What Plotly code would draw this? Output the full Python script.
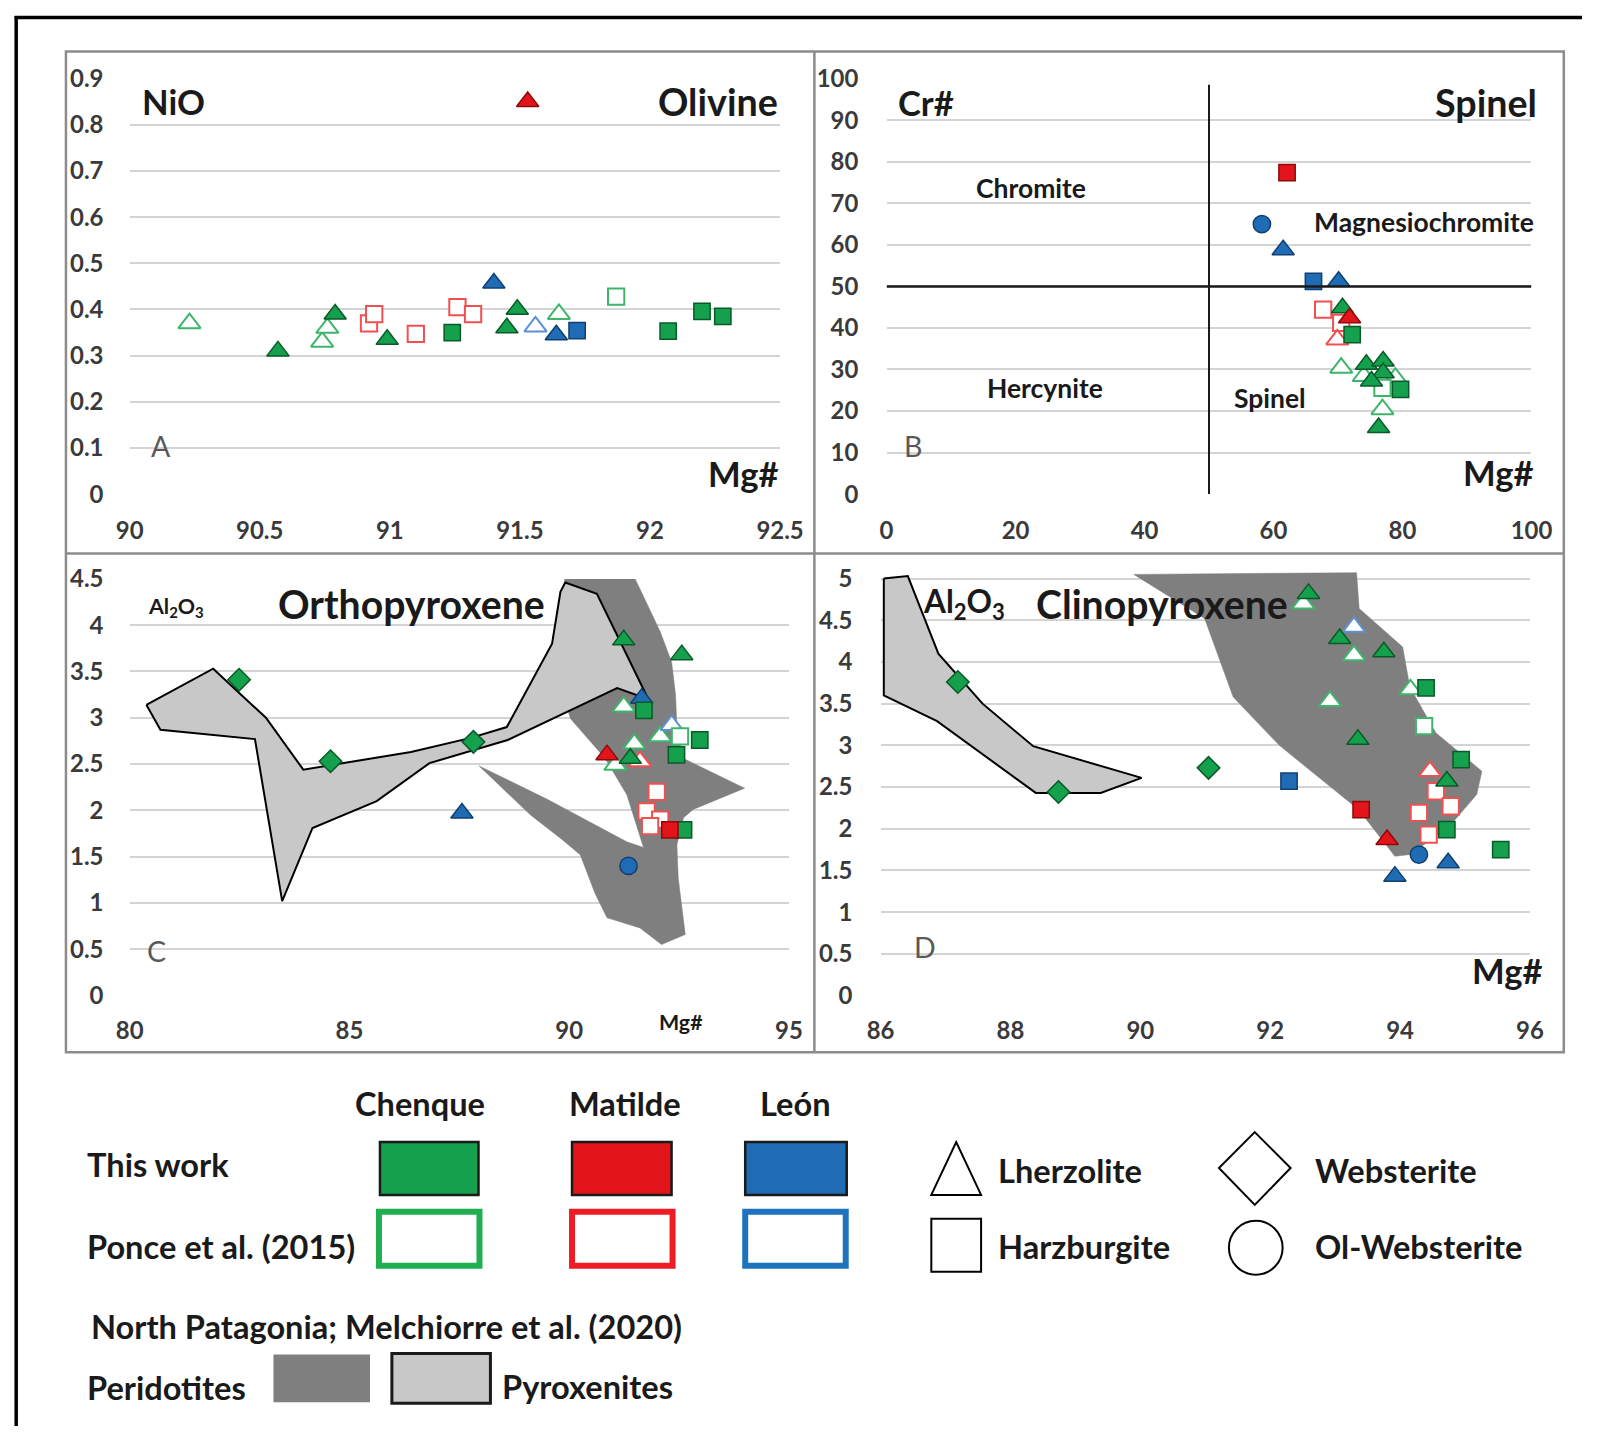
import plotly.graph_objects as go

W, H = 1606, 1439
# measured mapping of the photographed page: shot = K * div + OFF  -> invert so that
# positions given below (in photographed pixels) land where intended
KX, KY = 0.981, 0.983
OX, OY = 11.3, 12.3
S = 1 / ((KX + KY) / 2)  # size compensation


def px(x):
    return ((x - OX) / KX) / W


def py(y):
    return 1 - ((y - OY) / KY) / H


# ---------------- DATA ----------------
# group codes: [p]LOC-ROCK ; p = Ponce et al. (2015) (open); LOC: CH Chenque, MA Matilde, LE León
# ROCK: L Lherzolite, H Harzburgite, W Websterite, O Ol-Websterite

# Panel A - Olivine (Mg# vs NiO)
OL_MG = [90.23, 90.57, 90.74, 90.76, 90.79, 90.92, 90.94, 90.99, 91.10, 91.24, 91.26, 91.32,
         91.40, 91.45, 91.49, 91.53, 91.56, 91.65, 91.64, 91.72, 91.87, 92.07, 92.20, 92.28]
OL_NIO = [0.37, 0.31, 0.33, 0.36, 0.39, 0.37, 0.39, 0.335, 0.347, 0.35, 0.405, 0.39,
          0.457, 0.36, 0.40, 0.85, 0.363, 0.39, 0.345, 0.354, 0.428, 0.353, 0.396, 0.385]
OL_GROUP = ["pCH-L", "CH-L", "pCH-L", "pCH-L", "CH-L", "pMA-H", "pMA-H", "CH-L", "pMA-H", "CH-H",
            "pMA-H", "pMA-H", "LE-L", "CH-L", "CH-L", "MA-L", "pLE-L", "pCH-L", "LE-L", "LE-H",
            "pCH-H", "CH-H", "CH-H", "CH-H"]

# Panel B - Spinel (Mg# vs Cr#)
SP_MG = [62.1, 58.2, 61.5, 66.2, 70.1, 67.7, 70.7, 71.8, 70.5, 72.2, 69.9, 70.5, 74.4, 74.0,
         77.0, 77.0, 75.2, 76.9, 78.9, 79.7, 76.9, 76.3]
SP_CR = [77.4, 65.0, 58.8, 51.2, 51.2, 44.4, 44.8, 42.4, 41.2, 38.4, 37.2, 30.4, 31.2, 28.4,
         32.0, 29.2, 27.2, 25.6, 28.0, 25.2, 20.4, 16.0]
SP_GROUP = ["MA-H", "LE-O", "LE-L", "LE-H", "LE-L", "pMA-H", "CH-L", "MA-L", "pMA-H", "CH-H",
            "pMA-L", "pCH-L", "CH-L", "pCH-L", "CH-L", "CH-L", "CH-L", "pCH-H", "pCH-L", "CH-H",
            "pCH-L", "CH-L"]
SP_BOUNDARY_MG = 50
SP_BOUNDARY_CR = 50

# Panel C - Orthopyroxene (Mg# vs Al2O3)
OPX_MG = [82.49, 84.57, 87.82, 87.56, 91.24, 92.56, 91.65, 91.70, 91.24, 92.33, 92.07, 92.52,
          92.97, 91.48, 92.44, 90.86, 91.39, 91.61, 91.05, 91.99, 91.76, 92.07, 91.84, 92.29,
          92.60, 91.35]
OPX_AL = [3.41, 2.53, 2.74, 1.97, 3.84, 3.68, 3.21, 3.08, 3.12, 2.92, 2.80, 2.80,
          2.76, 2.72, 2.60, 2.60, 2.56, 2.53, 2.49, 2.20, 1.99, 1.90, 1.83, 1.79,
          1.79, 1.40]
OPX_GROUP = ["CH-W", "CH-W", "CH-W", "LE-L", "CH-L", "CH-L", "LE-L", "CH-H", "pCH-L", "pLE-L",
             "pCH-L", "pCH-H", "CH-H", "pCH-L", "CH-H", "MA-L", "CH-L", "pMA-L", "pCH-L", "pMA-H",
             "pMA-H", "pMA-H", "pMA-H", "MA-H", "CH-H", "LE-O"]

# Panel D - Clinopyroxene (Mg# vs Al2O3)
CPX_MG = [87.19, 88.74, 91.05, 92.29, 92.59, 92.51, 93.29, 93.07, 93.29, 93.75, 92.92, 94.16,
          94.40, 94.37, 93.35, 94.94, 94.46, 94.72, 94.55, 94.78, 93.40, 94.29, 94.72, 94.44,
          93.80, 94.29, 95.55, 94.74, 93.92]
CPX_AL = [3.76, 2.44, 2.73, 2.57, 4.82, 4.70, 4.42, 4.28, 4.08, 4.12, 3.53, 3.67,
          3.69, 3.23, 3.07, 2.83, 2.69, 2.57, 2.45, 2.27, 2.23, 2.19, 1.99, 1.93,
          1.87, 1.69, 1.75, 1.59, 1.43]
CPX_GROUP = ["CH-W", "CH-W", "CH-W", "LE-H", "CH-L", "pCH-L", "pLE-L", "CH-L", "pCH-L", "CH-L",
             "pCH-L", "pCH-L", "CH-H", "pCH-H", "CH-L", "CH-H", "pMA-L", "CH-L", "pMA-H", "pMA-H",
             "MA-H", "pMA-H", "CH-H", "pMA-H", "MA-L", "LE-O", "CH-H", "LE-L", "LE-L"]

# North Patagonia fields (Melchiorre et al. 2020)
OPX_PERID_X = [89.9, 91.5, 92.07, 92.33, 92.42, 92.45, 92.6, 93.99, 92.82, 92.6, 92.45, 92.48,
               92.6, 92.64, 92.1, 91.61, 90.86, 90.59, 90.25, 89.85, 89.12, 87.95, 89.5, 90.48,
               91.31, 91.69, 91.31, 90.82, 90.03, 89.7, 89.9]
OPX_PERID_Y = [4.5, 4.5, 3.93, 3.6, 3.25, 2.89, 2.56, 2.24, 2.01, 1.92, 1.63, 1.27,
               0.81, 0.66, 0.55, 0.73, 0.84, 1.1, 1.52, 1.68, 1.95, 2.48, 2.12, 1.87,
               1.66, 1.6, 2.17, 2.56, 2.99, 3.5, 4.5]
OPX_PYROX_X = [80.38, 81.9, 83.1, 83.95, 86.4, 87.74, 88.58, 89.61, 89.8, 89.91, 90.63, 91.73,
               91.8, 91.09, 88.6, 86.82, 85.62, 84.16, 83.47, 82.85, 80.7, 80.38]
OPX_PYROX_Y = [3.14, 3.53, 3.0, 2.44, 2.63, 2.78, 2.9, 3.8, 4.36, 4.46, 4.34, 3.28,
               3.2, 3.32, 2.76, 2.51, 2.1, 1.81, 1.02, 2.77, 2.87, 3.14]
CPX_PERID_X = [89.9, 93.33, 93.37, 94.04, 94.15, 94.55, 95.26, 95.18, 94.85, 94.55, 94.15, 93.92,
               93.36, 92.14, 91.43, 90.99, 89.9]
CPX_PERID_Y = [5.05, 5.07, 4.64, 4.18, 3.7, 3.15, 2.69, 2.41, 2.11, 1.91, 1.69, 1.67,
               2.23, 3.0, 3.58, 4.52, 5.05]
CPX_PYROX_X = [86.05, 86.42, 86.89, 87.57, 88.35, 90.02, 89.39, 88.39, 86.87, 86.05, 86.05]
CPX_PYROX_Y = [5.0, 5.03, 4.1, 3.5, 2.99, 2.61, 2.43, 2.43, 3.29, 3.6, 5.0]

# ---------------- STYLE ----------------
FILL = {"CH": "#14a04c", "MA": "#e3141b", "LE": "#1f6cb4"}
EDGE = {"CH": "#0a5a29", "MA": "#8c0a0a", "LE": "#103f72"}
OPEN = {"CH": "#3db56b", "MA": "#ef5050", "LE": "#5d90d2"}
SYMBOL = {"L": "triangle-up", "H": "square", "W": "diamond", "O": "circle"}
SIZE = {"L": 19, "H": 16, "W": 17, "O": 17}
PERID_COLOR = "#7f7f7f"
PYROX_COLOR = "#c8c8c8"
FONT = "Lato"
GRID = "#d4d4d4"

fig = go.Figure()

AXES = {"A": ("x", "y"), "B": ("x2", "y2"), "C": ("x3", "y3"), "D": ("x4", "y4")}


def add_field(xs, ys, color, panel, outline):
    xa, ya = AXES[panel]
    fig.add_trace(go.Scatter(
        x=xs, y=ys, xaxis=xa, yaxis=ya, mode="lines", fill="toself", fillcolor=color,
        line=dict(color="black" if outline else color, width=2 if outline else 0.5),
        hoverinfo="skip", showlegend=False))


def add_points(xs, ys, groups, panel):
    xa, ya = AXES[panel]
    order = []
    for g in groups:
        if g not in order:
            order.append(g)
    order.sort(key=lambda g: 0 if g.startswith("p") else 1)
    for g in order:
        is_open = g.startswith("p")
        loc, rock = g.lstrip("p").split("-")
        gx = [x for x, gg in zip(xs, groups) if gg == g]
        gy = [y for y, gg in zip(ys, groups) if gg == g]
        if is_open:
            marker = dict(symbol=SYMBOL[rock], size=SIZE[rock] * S, color="white",
                          line=dict(color=OPEN[loc], width=2))
        else:
            marker = dict(symbol=SYMBOL[rock], size=SIZE[rock] * S, color=FILL[loc],
                          line=dict(color=EDGE[loc], width=1.5))
        fig.add_trace(go.Scatter(x=gx, y=gy, xaxis=xa, yaxis=ya, mode="markers",
                                 marker=marker, cliponaxis=False, showlegend=False,
                                 name=g))


add_points(OL_MG, OL_NIO, OL_GROUP, "A")
add_points(SP_MG, SP_CR, SP_GROUP, "B")
add_field(OPX_PERID_X, OPX_PERID_Y, PERID_COLOR, "C", False)
add_field(OPX_PYROX_X, OPX_PYROX_Y, PYROX_COLOR, "C", True)
add_points(OPX_MG, OPX_AL, OPX_GROUP, "C")
add_field(CPX_PERID_X, CPX_PERID_Y, PERID_COLOR, "D", False)
add_field(CPX_PYROX_X, CPX_PYROX_Y, PYROX_COLOR, "D", True)
add_points(CPX_MG, CPX_AL, CPX_GROUP, "D")

tickfont = dict(family=FONT, size=23.5 * S, color="#3a3a3a", weight="bold")


def xaxis(dom, rng, dtick, ticklen):
    return dict(domain=[px(dom[0]), px(dom[1])], range=rng, dtick=dtick, tick0=rng[0],
                showgrid=False, zeroline=False, showline=False, ticks="outside",
                ticklen=ticklen * S, tickcolor="rgba(0,0,0,0)", tickfont=tickfont,
                fixedrange=True)


def yaxis(dom, rng, dtick, ticklen, anchor):
    return dict(domain=[py(dom[1]), py(dom[0])], range=rng, dtick=dtick, tick0=0,
                showgrid=True, gridcolor=GRID, gridwidth=2, zeroline=False, showline=False,
                ticks="outside", ticklen=ticklen * S, tickcolor="rgba(0,0,0,0)",
                tickfont=tickfont, anchor=anchor, fixedrange=True)


fig.update_layout(
    width=W, height=H, margin=dict(l=0, r=0, t=0, b=0),
    paper_bgcolor="white", plot_bgcolor="white", showlegend=False,
    xaxis=dict(**xaxis((127.5, 781), [90, 92.5], 0.5, 15), anchor="y"),
    yaxis=yaxis((75, 492), [0, 0.9003], 0.1, 20, "x"),
    xaxis2=dict(**xaxis((888, 1536), [0, 100], 20, 15), anchor="y2"),
    yaxis2=yaxis((75, 492), [0, 100.03], 10, 22, "x2"),
    xaxis3=dict(**xaxis((127.5, 790), [80, 95], 5, 13), anchor="y3"),
    yaxis3=yaxis((577, 995), [0, 4.5], 0.5, 20, "x3"),
    xaxis4=dict(**xaxis((882, 1534.5), [86, 96], 2, 13), anchor="y4"),
    yaxis4=yaxis((568.3, 995), [0, 5.1], 0.5, 22, "x4"),
)

shapes = []
# spinel field boundaries
shapes.append(dict(type="line", xref="x2", yref="y2", x0=SP_BOUNDARY_MG, x1=SP_BOUNDARY_MG,
                   y0=0, y1=98.5, line=dict(color="#1a1a1a", width=2)))
shapes.append(dict(type="line", xref="x2", yref="y2", x0=0, x1=100, y0=SP_BOUNDARY_CR,
                   y1=SP_BOUNDARY_CR, line=dict(color="#1a1a1a", width=2.5)))

# panel frames
FR = "#8c8c8c"
shapes.append(dict(type="rect", xref="paper", yref="paper", x0=px(63.5), x1=px(1568.5),
                   y0=py(1052), y1=py(48), line=dict(color=FR, width=2.5)))
shapes.append(dict(type="line", xref="paper", yref="paper", x0=px(815.5), x1=px(815.5),
                   y0=py(1052), y1=py(48), line=dict(color=FR, width=2.5)))
shapes.append(dict(type="line", xref="paper", yref="paper", x0=px(63.5), x1=px(1568.5),
                   y0=py(551.5), y1=py(551.5), line=dict(color=FR, width=2.5)))
# outer figure border
shapes.append(dict(type="line", xref="paper", yref="paper", x0=px(13.5), x1=px(13.5),
                   y0=0, y1=1, line=dict(color="black", width=3.5)))
shapes.append(dict(type="line", xref="paper", yref="paper", x0=px(12), x1=1,
                   y0=1 - 1.5 / H, y1=1 - 1.5 / H, line=dict(color="black", width=3.5)))

# legend swatches
for (x0, x1), loc in zip([(379, 478), (572, 672), (746, 848)], ["CH", "MA", "LE"]):
    shapes.append(dict(type="rect", xref="paper", yref="paper", x0=px(x0), x1=px(x1),
                       y0=py(1195), y1=py(1142), fillcolor=FILL[loc],
                       line=dict(color="#1a1a1a", width=2.5)))
for (x0, x1), loc in zip([(378, 479), (572, 673), (746, 847)], ["CH", "MA", "LE"]):
    shapes.append(dict(type="rect", xref="paper", yref="paper", x0=px(x0), x1=px(x1),
                       y0=py(1266), y1=py(1212), fillcolor="white",
                       line=dict(color={"CH": "#1fae50", "MA": "#ee1c25", "LE": "#1e73be"}[loc],
                                 width=6)))


def ppath(points):
    s = "M " + " L ".join(f"{px(a)},{py(b)}" for a, b in points) + " Z"
    return s


shapes.append(dict(type="path", xref="paper", yref="paper",
                   path=ppath([(933, 1195), (958, 1142), (983, 1195)]),
                   fillcolor="white", line=dict(color="black", width=2)))
shapes.append(dict(type="rect", xref="paper", yref="paper", x0=px(933), x1=px(983),
                   y0=py(1272), y1=py(1219), fillcolor="white", line=dict(color="black", width=2)))
shapes.append(dict(type="path", xref="paper", yref="paper",
                   path=ppath([(1258, 1132), (1294, 1168), (1258, 1205), (1222, 1168)]),
                   fillcolor="white", line=dict(color="black", width=2)))
shapes.append(dict(type="circle", xref="paper", yref="paper", x0=px(1232), x1=px(1286),
                   y0=py(1275), y1=py(1221), fillcolor="white", line=dict(color="black", width=2)))
shapes.append(dict(type="rect", xref="paper", yref="paper", x0=px(272), x1=px(369),
                   y0=py(1403), y1=py(1355), fillcolor=PERID_COLOR, line=dict(width=0)))
shapes.append(dict(type="rect", xref="paper", yref="paper", x0=px(391), x1=px(490),
                   y0=py(1404), y1=py(1354), fillcolor=PYROX_COLOR,
                   line=dict(color="#1a1a1a", width=3)))
fig.update_layout(shapes=shapes)


def ann(text, x, y, xref, yref, size, bold=True, color="#1a1a1a", xanchor="center",
        xshift=0, yshift=0):
    fig.add_annotation(text=text, x=x, y=y, xref=xref, yref=yref, showarrow=False,
                       font=dict(family=FONT, size=size * S, color=color,
                                 weight="bold" if bold else "normal"),
                       xanchor=xanchor, yanchor="middle", xshift=xshift, yshift=yshift)


# Panel A
ann("NiO", 90.04, 0.85, "x", "y", 34, xanchor="left")
ann("Olivine", 92.5, 0.85, "x", "y", 37, xanchor="right")
ann("A", 90.12, 0.104, "x", "y", 28, bold=False, color="#595959")
ann("Mg#", 92.5, 0.045, "x", "y", 34, xanchor="right")
# Panel B
ann("Cr#", 1.5, 94.2, "x2", "y2", 34, xanchor="left")
ann("Spinel", 100, 94.2, "x2", "y2", 37, xanchor="right", xshift=8)
ann("Chromite", 22.4, 73.6, "x2", "y2", 26)
ann("Magnesiochromite", 83.4, 65.6, "x2", "y2", 26)
ann("Hercynite", 24.5, 25.6, "x2", "y2", 26)
ann("Spinel", 59.5, 23.2, "x2", "y2", 26)
ann("B", 4.1, 11.6, "x2", "y2", 28, bold=False, color="#595959")
ann("Mg#", 100, 5.2, "x2", "y2", 34, xanchor="right", xshift=4)
# Panel C
ann("Al<sub>2</sub>O<sub>3</sub>", 80.38, 4.2, "x3", "y3", 21, xanchor="left")
ann("Orthopyroxene", 86.41, 4.23, "x3", "y3", 38.5)
ann("C", 80.6, 0.48, "x3", "y3", 28, bold=False, color="#595959")
ann("Mg#", 92.55, 0, "x3", "y3", 21, yshift=-26)
# Panel D
ann("Al<sub>2</sub>O<sub>3</sub>", 86.62, 4.7, "x4", "y4", 31, xanchor="left")
ann("Clinopyroxene", 90.34, 4.7, "x4", "y4", 38.5)
ann("D", 86.68, 0.58, "x4", "y4", 28, bold=False, color="#595959")
ann("Mg#", 96, 0.3, "x4", "y4", 34, xanchor="right", xshift=14)

# Legend texts
LEG = 32
ann("Chenque", px(419), py(1103), "paper", "paper", LEG)
ann("Matilde", px(625), py(1103), "paper", "paper", LEG)
ann("León", px(797), py(1103), "paper", "paper", LEG)
ann("This work", px(83), py(1164), "paper", "paper", LEG, xanchor="left")
ann("Ponce et al. (2015)", px(83), py(1247), "paper", "paper", LEG, xanchor="left")
ann("Lherzolite", px(998), py(1171), "paper", "paper", LEG, xanchor="left")
ann("Harzburgite", px(998), py(1247), "paper", "paper", LEG, xanchor="left")
ann("Websterite", px(1316), py(1171), "paper", "paper", LEG, xanchor="left")
ann("Ol-Websterite", px(1316), py(1247), "paper", "paper", LEG, xanchor="left")
ann("North Patagonia; Melchiorre et al. (2020)", px(87), py(1327), "paper", "paper", LEG,
    xanchor="left")
ann("Peridotites", px(83), py(1388), "paper", "paper", LEG, xanchor="left")
ann("Pyroxenites", px(500), py(1387), "paper", "paper", LEG, xanchor="left")

fig.write_html("out.html")
